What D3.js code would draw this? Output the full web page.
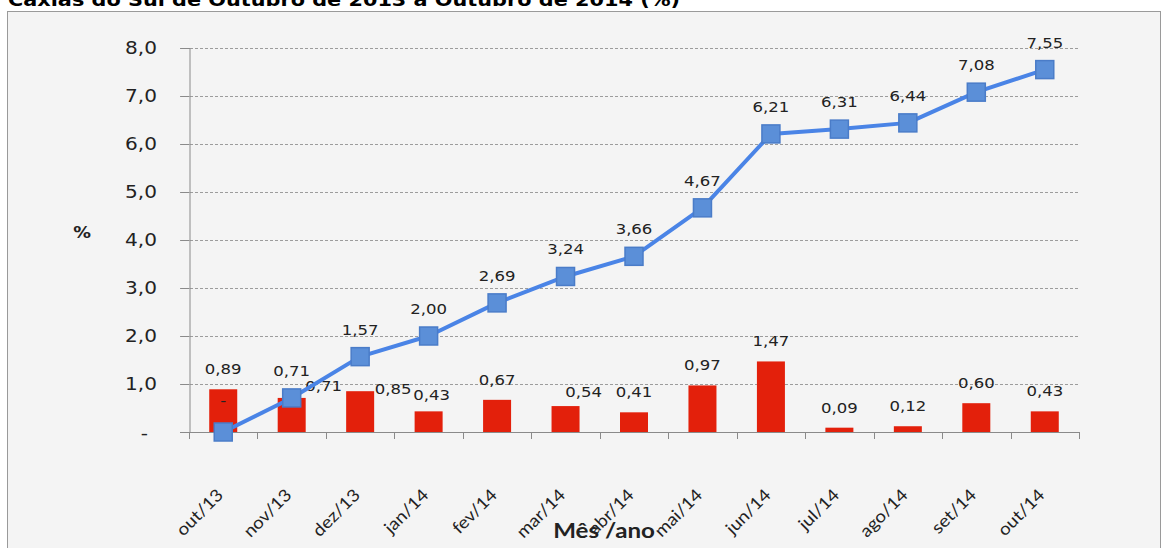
<!DOCTYPE html>
<html>
<head>
<meta charset="utf-8">
<script src="https://cdn.jsdelivr.net/npm/d3@7"></script>
<style>
  body { margin: 0; background: #fff; }
  text { font-family: "DejaVu Sans", Verdana, sans-serif; fill: #222; }
</style>
</head>
<body>
<div id="chart"></div>
<script>
var months = ["out/13", "nov/13", "dez/13", "jan/14", "fev/14", "mar/14", "abr/14",
  "mai/14", "jun/14", "jul/14", "ago/14", "set/14", "out/14"];
var monthly = [0.89, 0.71, 0.85, 0.43, 0.67, 0.54, 0.41, 0.97, 1.47, 0.09, 0.12, 0.60, 0.43];
var accumulated = [0, 0.71, 1.57, 2.00, 2.69, 3.24, 3.66, 4.67, 6.21, 6.31, 6.44, 7.08, 7.55];
var yTicks = [0, 1, 2, 3, 4, 5, 6, 7, 8];
var title = "Caxias do Sul de Outubro de 2013 a Outubro de 2014 (%)";

// some bar labels were dragged aside in the original
var barLabelShift = { "nov/13": [32, 8], "dez/13": [33, 18], "mar/14": [18, 6], "jan/14": [3, 4] };

render();

function render() {
  var W = 1165, H = 548;
  var sx = 1.18; // text in the source is stretched horizontally
  var fmt = function (v) { return v === 0 ? "-" : d3.format(".2f")(v).replace(".", ","); };

  var svg = d3.select("#chart").append("svg")
    .attr("width", W).attr("height", H);

  function txt(g, x, y, s, size, anchor, weight, rot, fam, scl) {
    return g.append("text")
      .attr("transform", "translate(" + x + "," + y + ")" + (rot ? " rotate(" + rot + ")" : "") + " scale(" + (scl || sx) + ",1)")
      .attr("text-anchor", anchor || "middle")
      .style("font-size", size + "px")
      .style("font-weight", weight || "normal")
      .style("font-family", fam || null)
      .text(s);
  }

  // title (cut by the top edge, as in the source)
  svg.append("text")
    .attr("x", 8).attr("y", 6)
    .attr("textLength", 672).attr("lengthAdjust", "spacingAndGlyphs")
    .style("font-size", "17px").style("font-weight", "bold").style("fill", "#000")
    .text(title);

  // chart frame
  svg.append("rect")
    .attr("x", 7.5).attr("y", 11.5).attr("width", 1153).attr("height", 560)
    .attr("fill", "#f4f4f4").attr("stroke", "#9a9a9a");

  var x = d3.scaleBand().domain(months).range([189, 1079]).padding(0);
  var y = d3.scaleLinear().domain([0, 8]).range([432, 48]);

  // gridlines
  svg.append("g").selectAll("line").data(yTicks.filter(function (d) { return d > 0; }))
    .join("line")
    .attr("x1", 180).attr("x2", 1079)
    .attr("y1", function (d) { return y(d) + 0.5; }).attr("y2", function (d) { return y(d) + 0.5; })
    .attr("stroke", "#9c9c9c").attr("stroke-dasharray", "3,2");

  // y axis
  var yAxis = svg.append("g").attr("transform", "translate(189.5,0)")
    .call(d3.axisLeft(y).tickValues(yTicks).tickSize(9).tickFormat(""));
  yAxis.select(".domain").attr("stroke", "#8a8a8a");
  yAxis.selectAll(".tick line").attr("stroke", "#8a8a8a");
  yTicks.forEach(function (d) {
    if (d === 0) txt(svg, 148, y(d) + 7, "-", 17, "end");
    else txt(svg, 157, y(d) + 6, d3.format(".1f")(d).replace(".", ","), 17, "end");
  });
  txt(svg, 82, 238, "%", 15, "middle", "bold");

  // x axis with ticks between categories
  var bounds = months.map(function (m) { return x(m); }).concat([x.range()[1]]);
  svg.append("line").attr("x1", 180).attr("x2", 1079)
    .attr("y1", y(0) + 0.5).attr("y2", y(0) + 0.5).attr("stroke", "#8a8a8a");
  svg.append("g").selectAll("line").data(bounds).join("line")
    .attr("x1", function (d) { return Math.round(d) + 0.5; })
    .attr("x2", function (d) { return Math.round(d) + 0.5; })
    .attr("y1", y(0)).attr("y2", y(0) + 7)
    .attr("stroke", "#8a8a8a");

  var cx = function (m) { return x(m) + x.bandwidth() / 2; };

  // bars
  var bw = 28;
  svg.append("g").selectAll("rect").data(months).join("rect")
    .attr("x", function (m) { return cx(m) - bw / 2; })
    .attr("y", function (m, i) { return y(monthly[i]); })
    .attr("width", bw)
    .attr("height", function (m, i) { return y(0) - y(monthly[i]); })
    .attr("fill", "#e3200b");

  months.forEach(function (m, i) {
    var sh = barLabelShift[m] || [0, 0];
    txt(svg, cx(m) + sh[0], y(monthly[i]) - 15 + sh[1], fmt(monthly[i]), 14);
  });

  // accumulated line
  var line = d3.line()
    .x(function (d, i) { return cx(months[i]); })
    .y(function (d) { return y(d); });
  svg.append("path").datum(accumulated)
    .attr("fill", "none").attr("stroke", "#4a84e6").attr("stroke-width", 4)
    .attr("stroke-linejoin", "round").attr("d", line);

  var ms = 18;
  svg.append("g").selectAll("rect").data(accumulated).join("rect")
    .attr("x", function (d, i) { return cx(months[i]) - ms / 2; })
    .attr("y", function (d) { return y(d) - ms / 2; })
    .attr("width", ms).attr("height", ms)
    .attr("fill", "#5b8fd8").attr("stroke", "#4a7cc8").attr("stroke-width", 1.5);

  accumulated.forEach(function (d, i) {
    if (d === 0) txt(svg, cx(months[i]), y(0) - 26, "-", 14);
    else txt(svg, cx(months[i]), y(d) - 22, fmt(d), 14);
  });

  // category labels, rotated
  months.forEach(function (m) {
    txt(svg, cx(m) + 1, 496, m, 17, "end", "normal", -45, "Lato", 1.1);
  });

  txt(svg, 604, 538, "Mês /ano", 21, "middle", "bold", 0, "Lato", 1.15);
}
</script>
</body>
</html>
